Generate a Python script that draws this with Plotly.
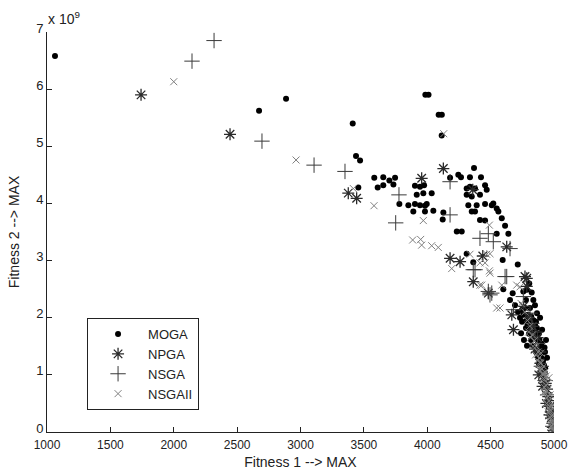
import plotly.graph_objects as go

# ---- data (Fitness 1, Fitness 2 in units of 1e9) ----
moga_x = [1063, 2673, 2886, 3412, 3985, 4010, 4090, 4115, 4114, 3438, 3470,
          3582, 3653, 3701, 3746, 3733, 3609, 3653, 3456,
          3903, 3943, 3975, 3917, 3969, 4035, 3780, 3851, 3903, 3943, 3982, 3996,
          3890, 3982, 4048, 4127, 4122,
          4180, 4245, 4266, 4337, 4369, 4424, 4311, 4337, 4377, 4311, 4351, 4416,
          4456, 4469, 4324, 4390, 4456, 4509, 4521, 4548, 4561, 4351, 4377, 4416,
          4456, 4588, 4614, 4640, 4548, 4233, 4272, 4311, 4363, 4595, 4714,
          4805, 4785, 4824, 4837, 4758, 4674, 4600,
          4653, 4693, 4716, 4732, 4748, 4771, 4795, 4811, 4827, 4842, 4779, 4803,
          4858, 4874, 4819, 4835, 4890, 4898, 4858, 4874, 4914, 4921, 4882, 4779,
          4850, 4866, 4890, 4763, 4787, 4740, 4748, 4858, 4906, 4937, 4929, 4945, 4811,
          4760, 4790, 4820, 4845, 4880, 4900, 4910, 4925, 4930, 4900, 4870, 4850,
          4785, 4815, 4840, 4865, 4885]
moga_y = [6.58, 5.62, 5.83, 5.40, 5.90, 5.90, 5.55, 5.55, 5.19, 4.83, 4.75,
          4.45, 4.46, 4.40, 4.45, 4.33, 4.28, 4.32, 4.28,
          4.31, 4.29, 4.32, 4.15, 4.18, 4.18, 3.99, 3.97, 3.99, 3.97, 3.96, 3.99,
          3.86, 3.86, 3.87, 3.84, 3.72,
          4.45, 4.50, 4.46, 4.46, 4.62, 4.46, 4.26, 4.29, 4.26, 4.15, 4.12, 4.15,
          4.32, 4.24, 3.97, 3.97, 3.99, 3.97, 4.00, 3.91, 3.86, 3.86, 3.86, 3.71,
          3.70, 3.74, 3.61, 3.47, 3.47, 3.51, 3.51, 3.12, 2.97, 3.01, 2.93,
          2.60, 2.49, 2.44, 2.31, 2.46, 2.43, 2.50,
          2.31, 2.22, 2.10, 2.00, 1.93, 2.17, 2.05, 1.96, 1.86, 1.77, 1.82, 1.72,
          1.66, 1.58, 1.61, 1.51, 1.47, 1.37, 1.40, 1.30, 1.26, 1.17, 1.19, 2.31,
          2.22, 2.08, 2.00, 1.61, 1.51, 1.73, 2.14, 1.93, 1.79, 1.61, 1.40, 1.30, 2.17,
          2.06, 1.90, 2.02, 1.68, 1.72, 1.55, 1.22, 1.48, 1.12, 1.33, 1.45, 1.88,
          1.95, 1.80, 1.95, 1.82, 1.62]

npga_x = [1742, 2444, 3377, 3443, 3956, 4127, 4359, 4180, 4259, 4438, 4627, 4771,
          4363, 4482, 4667, 4680, 4785, 4785,
          4850, 4890, 4920, 4945, 4960, 4975, 4985, 4995, 4870, 4905, 4935, 4955,
          4970, 4980, 4830, 4760, 4800, 4880, 4910, 4940, 4965, 4990]
npga_y = [5.90, 5.21, 4.18, 4.09, 4.44, 4.61, 4.24, 3.04, 2.98, 3.08, 3.24, 2.72,
          2.63, 2.43, 2.05, 1.79, 2.69, 2.55,
          1.45, 1.20, 0.95, 0.75, 0.55, 0.35, 0.15, 0.03, 1.65, 1.05, 0.85, 0.62,
          0.45, 0.25, 1.85, 2.20, 2.00, 1.00, 0.80, 0.50, 0.30, 0.08]

nsga_x = [2144, 2318, 2696, 3107, 3351, 3777, 3751, 4180, 4180, 4416, 4482, 4521,
          4653, 4363, 4614, 4377, 4627, 4495, 4811, 4680, 4482, 4509, 4758,
          4850, 4880, 4900, 4930, 4950, 4965, 4980, 4990, 4825, 4870]
nsga_y = [6.49, 6.85, 5.09, 4.67, 4.56, 4.15, 3.66, 4.38, 3.80, 3.39, 3.47, 3.33,
          3.21, 2.84, 2.72, 2.84, 2.72, 2.40, 2.08, 2.14, 2.46, 2.43, 2.37,
          1.75, 1.40, 1.15, 0.90, 0.65, 0.45, 0.30, 0.10, 1.90, 1.55]

nsgaii_x = [2000, 2965, 3580, 3417, 3969, 3885, 3948, 3956, 4035, 4087, 4130, 4490,
            4193, 4337, 4416, 4456, 4490, 4469, 4588, 4430, 4706, 4574, 4495, 4416,
            4495, 4548, 4732,
            4740, 4770, 4790, 4810, 4830, 4845, 4860, 4875, 4885, 4895, 4905, 4915,
            4925, 4935, 4945, 4952, 4960, 4967, 4973, 4980, 4985, 4990, 4995, 4880,
            4900, 4920, 4940, 4955, 4965, 4975, 4870, 4855, 4835, 4815, 4800, 4930,
            4950, 4970, 4985, 4990, 5000, 4960,
            4890, 4910, 4925, 4945, 4958, 4972, 4982, 4993, 4998, 4938, 4918, 4898]
nsgaii_y = [6.13, 4.76, 3.96, 4.26, 3.70, 3.36, 3.37, 3.27, 3.26, 3.23, 5.22, 3.62,
            2.86, 3.11, 2.96, 2.96, 2.82, 3.11, 2.57, 2.57, 2.57, 2.17, 3.12, 2.57,
            2.78, 2.17, 2.54,
            2.25, 2.10, 1.95, 1.85, 1.70, 1.60, 1.50, 1.40, 1.30, 1.20, 1.10, 1.00,
            0.92, 0.82, 0.72, 0.63, 0.54, 0.45, 0.37, 0.28, 0.20, 0.12, 0.05, 1.10,
            0.90, 0.70, 0.50, 0.35, 0.20, 0.10, 1.25, 1.35, 1.50, 1.65, 1.75, 1.05,
            0.85, 0.65, 0.45, 0.30, 0.15, 0.95,
            1.22, 1.02, 0.78, 0.60, 0.42, 0.25, 0.16, 0.08, 0.02, 0.98, 1.15, 1.38]

x_ticks = [1000, 1500, 2000, 2500, 3000, 3500, 4000, 4500, 5000]
y_ticks = [0, 1, 2, 3, 4, 5, 6, 7]

FONT = "Liberation Sans, Arial, sans-serif"

fig = go.Figure()
fig.add_trace(go.Scatter(x=moga_x, y=moga_y, mode="markers", name="MOGA",
                         marker=dict(symbol="circle", size=6, color="#000000",
                                     line=dict(width=0))))
fig.add_trace(go.Scatter(x=npga_x, y=npga_y, mode="markers", name="NPGA",
                         marker=dict(symbol="asterisk-open", size=10, color="#2a2a2a",
                                     line=dict(width=1.3, color="#2a2a2a"))))
fig.add_trace(go.Scatter(x=nsga_x, y=nsga_y, mode="markers", name="NSGA",
                         marker=dict(symbol="cross-thin-open", size=11, color="#3a3a3a",
                                     line=dict(width=1, color="#3a3a3a"))))
fig.add_trace(go.Scatter(x=nsgaii_x, y=nsgaii_y, mode="markers", name="NSGAII",
                         marker=dict(symbol="x-thin-open", size=7, color="#808080",
                                     line=dict(width=1, color="#808080"))))

fig.update_layout(
    width=569, height=473,
    margin=dict(l=47, r=15, t=32, b=41),
    paper_bgcolor="white", plot_bgcolor="white",
    font=dict(family=FONT, size=12, color="#222222"),
    showlegend=True,
    legend=dict(x=0.079, y=0.285, xanchor="left", yanchor="top",
                bgcolor="white", bordercolor="#222222", borderwidth=1,
                font=dict(family=FONT, size=13, color="#222222"),
                itemwidth=50, tracegroupgap=0),
    xaxis=dict(range=[1000, 5000], tickvals=x_ticks, ticktext=[str(v) for v in x_ticks],
               showline=True, linecolor="#222222", linewidth=1, mirror=False,
               showgrid=False, zeroline=False, ticks="inside", ticklen=5,
               tickcolor="#222222", tickfont=dict(size=12), ticklabelstandoff=2,
               automargin=False,
               title=dict(text="Fitness 1 --> MAX", font=dict(size=14, color="#222222"),
                          standoff=5)),
    yaxis=dict(range=[0, 7], tickvals=y_ticks, ticktext=[str(v) for v in y_ticks],
               showline=True, linecolor="#222222", linewidth=1, mirror=False,
               showgrid=False, zeroline=False, ticks="inside", ticklen=5,
               tickcolor="#222222", tickfont=dict(size=13), ticklabelshift=-4,
               automargin=False,
               title=dict(text="Fitness 2 --> MAX", font=dict(size=14, color="#222222"),
                          standoff=13)),
    annotations=[dict(text="x 10<sup>9</sup>", xref="paper", yref="paper",
                      x=0.0, y=1.0, xanchor="left", yanchor="bottom",
                      xshift=-1, yshift=3, showarrow=False,
                      font=dict(family=FONT, size=14, color="#222222"))],
)

# remove the browser's default 8px body margin so the figure fills the window
fig.write_html("out.html",
               config={"displayModeBar": False},
               post_script="document.body.style.margin='0';document.body.style.overflow='hidden';")
